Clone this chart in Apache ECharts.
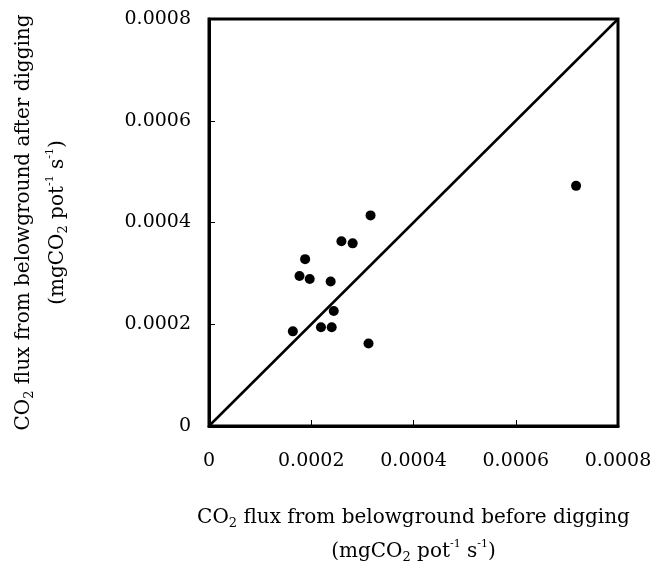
<!DOCTYPE html>
<html>
<head>
<meta charset="utf-8">
<script src="https://cdn.jsdelivr.net/npm/echarts@6/dist/echarts.min.js"></script>
<style>
  html, body { margin: 0; padding: 0; background: #fff; }
  #chart { width: 656px; height: 568px; }
</style>
</head>
<body>
<div id="chart"></div>
<script>
// CO2 flux before digging (x) vs after digging (y), mgCO2 pot-1 s-1
const beforeDig = [0.000164, 0.000177, 0.000188, 0.000197, 0.000219, 0.000240, 0.000238, 0.000244, 0.000259, 0.000281, 0.000316, 0.000312, 0.000718];
const afterDig  = [0.000186, 0.000295, 0.000328, 0.000289, 0.000194, 0.000194, 0.000284, 0.000226, 0.000363, 0.000359, 0.000414, 0.000162, 0.000472];
const oneToOne = [[0, 0], [0.0008, 0.0008]];
const axisMin = 0, axisMax = 0.0008, axisStep = 0.0002;

const FONT = 'DejaVu Serif';
// n = normal text, s = subscript, p = superscript
const rich = {
  n: { fontFamily: FONT, fontSize: 20, color: '#000', lineHeight: 34 },
  s: { fontFamily: FONT, fontSize: 13, color: '#000', verticalAlign: 'bottom', padding: [0, 0, 5, 0] },
  p: { fontFamily: FONT, fontSize: 11, color: '#000', verticalAlign: 'top', padding: [4, 0, 0, 0] }
};
const unitLine = '{n|(mgCO}{s|2}{n| pot}{p|-1}{n| s}{p|-1}{n|)}';

const fmt = v => (v === 0 ? '0' : v.toFixed(4));
const LABEL = { fontFamily: FONT, fontSize: 19, color: '#000' };

const chart = echarts.init(document.getElementById('chart'));
chart.setOption({
  animation: false,
  grid: {
    left: 209, right: 38, top: 19, bottom: 142,
    outerBoundsMode: 'none',
    show: true, borderColor: '#000', borderWidth: 3
  },
  xAxis: {
    type: 'value', min: axisMin, max: axisMax, interval: axisStep,
    name: '{n|CO}{s|2}{n| flux from belowground before digging}\n' + unitLine,
    nameLocation: 'middle', nameGap: 75,
    nameTextStyle: { rich, align: 'center' },
    axisLine: { lineStyle: { color: '#000', width: 3 } },
    axisTick: { inside: true, length: 6, lineStyle: { color: '#000', width: 1 } },
    axisLabel: { ...LABEL, margin: 26, formatter: fmt },
    splitLine: { show: false }
  },
  yAxis: {
    type: 'value', min: axisMin, max: axisMax, interval: axisStep,
    name: '{n|CO}{s|2}{n| flux from belowground after digging}\n' + unitLine,
    nameLocation: 'middle', nameGap: 134, nameRotate: 90,
    nameTextStyle: { rich, align: 'center' },
    axisLine: { lineStyle: { color: '#000', width: 3 } },
    axisTick: { inside: true, length: 6, lineStyle: { color: '#000', width: 1 } },
    axisLabel: { ...LABEL, margin: 18, formatter: fmt },
    splitLine: { show: false }
  },
  series: [
    {
      type: 'line', data: oneToOne, symbol: 'none',
      lineStyle: { color: '#000', width: 2.5 }, silent: true
    },
    {
      type: 'scatter', data: beforeDig.map((x, i) => [x, afterDig[i]]),
      symbol: 'circle', symbolSize: 10, itemStyle: { color: '#000', opacity: 1 }
    }
  ]
});
</script>
</body>
</html>
